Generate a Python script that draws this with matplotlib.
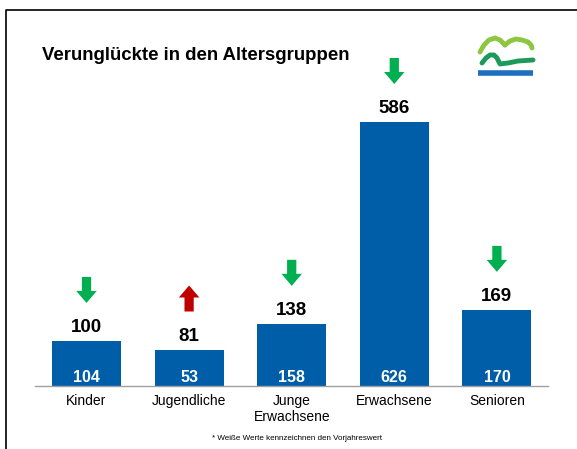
import matplotlib
matplotlib.use("Agg")
import matplotlib.pyplot as plt
import numpy as np

plt.rcParams['font.family'] = ['Liberation Sans', 'DejaVu Sans']

categories = ["Kinder", "Jugendliche", "Junge\nErwachsene", "Erwachsene", "Senioren"]
values = [100, 81, 138, 586, 169]
previous = [104, 53, 158, 626, 170]
trend = ["down", "up", "down", "down", "down"]

W, H = 577, 449
fig = plt.figure(figsize=(W / 100, H / 100), dpi=100)

# Hauptdiagramm
ymax = 700
ax_h = 315.4
ax = fig.add_axes([35.2 / W, 63 / H, 513 / W, ax_h / H])
ax.patch.set_visible(False)
u = ymax / ax_h  # Dateneinheiten pro Pixel

x = np.arange(len(categories))
ax.bar(x, values, width=0.672, color="#005EA8", zorder=2)
ax.set_xlim(-0.5, len(categories) - 0.5)
ax.set_ylim(0, ymax)

for s in ["top", "right", "left"]:
    ax.spines[s].set_visible(False)
ax.spines["bottom"].set_color("#A0A0A0")
ax.spines["bottom"].set_linewidth(1.0)
ax.set_yticks([])
ax.set_xticks(x)
ax.set_xticklabels(categories, fontsize=10, linespacing=1.15)
ax.tick_params(axis="x", length=0, pad=6)

for i, (v, p, t) in enumerate(zip(values, previous, trend)):
    ax.annotate(str(v), (i, v), xytext=(0, 13), textcoords="offset pixels",
                ha="center", va="center", fontsize=13.5, fontweight="bold")
    ax.annotate(str(p), (i, 0), xytext=(0, 9), textcoords="offset pixels",
                ha="center", va="center", fontsize=11.5, fontweight="bold",
                color="white")
    lo = v + 38 * u
    hi = v + 64 * u
    if t == "down":
        ax.arrow(i, hi, 0, lo - hi, width=0.09, head_width=0.2,
                 head_length=12 * u, length_includes_head=True,
                 color="#00B050", lw=0, clip_on=False)
    else:
        ax.arrow(i, lo, 0, hi - lo, width=0.09, head_width=0.2,
                 head_length=12 * u, length_includes_head=True,
                 color="#C00000", lw=0, clip_on=False)

# Rahmen und Logo in Pixelkoordinaten
ov = fig.add_axes([0, 0, 1, 1], zorder=-1)
ov.set_xlim(0, W)
ov.set_ylim(H, 0)
ov.axis("off")
ov.plot([5.5, 5.5, 577], [449, 9.5, 9.5], color="black", lw=1.2)

ov.plot([480, 484, 489, 495, 500, 505], [52, 45, 40, 38, 40, 45],
        color="#8DC63F", lw=3.5, solid_capstyle="round")
ov.plot([505, 510, 516, 522, 528, 531, 532], [45, 41, 39, 40, 42, 45, 48],
        color="#8DC63F", lw=3.5, solid_capstyle="round")
ov.plot([482, 486, 490, 494, 497, 500, 508, 518, 533],
        [63, 58, 55, 55, 58, 64, 63, 61, 60],
        color="#1C9A5B", lw=3.5, solid_capstyle="round")
ov.plot([478, 533], [73, 73], color="#1E6FC0", lw=4, solid_capstyle="butt")

fig.text(42 / W, 1 - 55 / H, "Verunglückte in den Altersgruppen",
         fontsize=13.4, fontweight="bold", va="center", ha="left")
fig.text(297 / W, 1 - 438 / H, "* Weiße Werte kennzeichnen den Vorjahreswert",
         fontsize=5.8, ha="center", va="center")

fig.savefig("out.png", dpi=100)
